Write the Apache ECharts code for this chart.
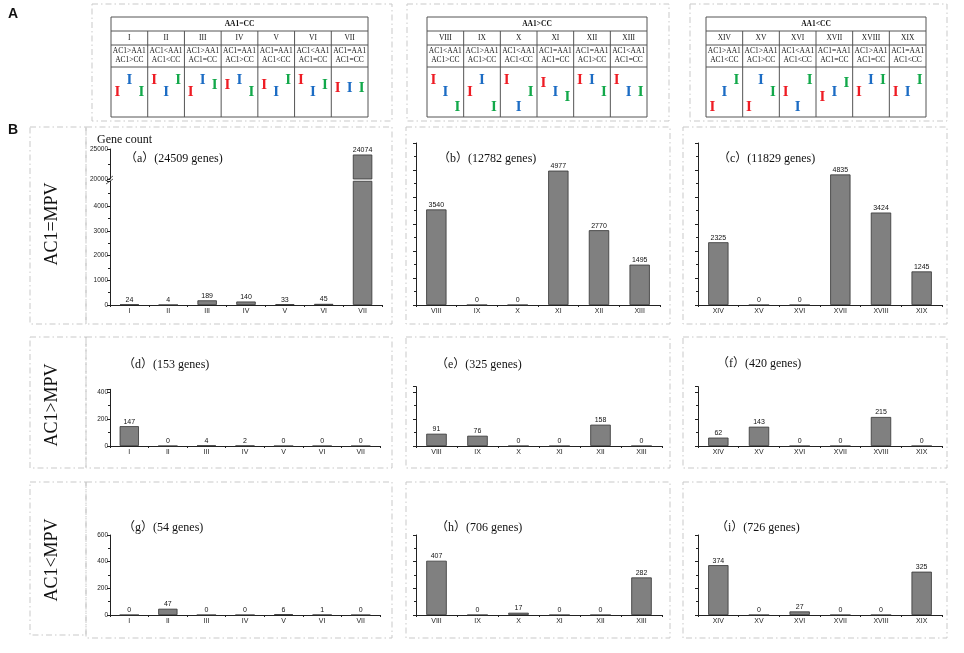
<!DOCTYPE html>
<html><head><meta charset="utf-8">
<script src="https://cdn.jsdelivr.net/npm/echarts@6.0.0/dist/echarts.min.js"></script>
<style>html,body{margin:0;padding:0;background:#fff}#c{width:964px;height:653px}</style>
</head><body><div id="c"></div>
<script>
// ---------- data ----------
const catsA = ['I','II','III','IV','V','VI','VII'];
const catsB = ['VIII','IX','X','XI','XII','XIII'];
const catsC = ['XIV','XV','XVI','XVII','XVIII','XIX'];
const valsA = [24,4,189,140,33,45,24074];
const valsB = [3540,0,0,4977,2770,1495];
const valsC = [2325,0,0,4835,3424,1245];
const valsD = [147,0,4,2,0,0,0];
const valsE = [91,76,0,0,158,0];
const valsF = [62,143,0,0,215,0];
const valsG = [0,47,0,0,6,1,0];
const valsH = [407,0,17,0,0,282];
const valsI = [374,0,27,0,0,325];
const panelTitles = ['（a）(24509 genes)','（b）(12782 genes)','（c）(11829 genes)',
                     '（d）(153 genes)','（e）(325 genes)','（f）(420 genes)',
                     '（g）(54 genes)','（h）(706 genes)','（i）(726 genes)'];
const rowLabels = ['AC1=MPV','AC1>MPV','AC1<MPV'];
const groupHeads = ['AA1=CC','AA1>CC','AA1<CC'];
const relA = [['AC1>AA1','AC1>CC'],['AC1<AA1','AC1<CC'],['AC1>AA1','AC1=CC'],['AC1=AA1','AC1>CC'],['AC1=AA1','AC1<CC'],['AC1<AA1','AC1=CC'],['AC1=AA1','AC1=CC']];
const relB = [['AC1<AA1','AC1>CC'],['AC1>AA1','AC1>CC'],['AC1<AA1','AC1<CC'],['AC1=AA1','AC1=CC'],['AC1=AA1','AC1>CC'],['AC1<AA1','AC1=CC']];
const relC = [['AC1>AA1','AC1<CC'],['AC1>AA1','AC1>CC'],['AC1<AA1','AC1<CC'],['AC1=AA1','AC1=CC'],['AC1>AA1','AC1=CC'],['AC1=AA1','AC1<CC']];
// relative levels of AA1 (red), AC1 (blue), CC (green) in each column
const lvA = [[6,10,6],[10,6,10],[6,10,8.3],[8.3,10,6],[8.3,6,10],[10,6,8.3],[7.3,7.3,7.3]];
const lvB = [[10,6,1],[6,10,1],[10,1,6],[9,6,4.3],[10,10,6],[10,6,6]];
const lvC = [[1,6,10],[1,10,6],[6,1,10],[4.3,6,9],[6,10,10],[6,6,10]];

// ---------- layout ----------
const SERIF = '"Liberation Serif","Times New Roman","Noto Sans CJK SC",serif';
const SANS = '"Liberation Sans",Arial,sans-serif';
const chart = echarts.init(document.getElementById('c'), null, {renderer:'canvas'});
const graphic = [];
function dashBox(x,y,w,h){
  graphic.push({type:'rect',silent:true,z:-10,shape:{x,y,width:w,height:h},
    style:{fill:'none',stroke:'#c9c9c9',lineWidth:1,lineDash:[6,3,1.5,3]}});
}
function ctext(x,y,text,font,align){
  graphic.push({type:'text',silent:true,x,y,
    style:{text,font,fill:'#111',align:align||'left',verticalAlign:'middle'}});
}
function line(x1,y1,x2,y2,color,w){
  graphic.push({type:'line',silent:true,shape:{x1,y1,x2,y2},style:{stroke:color||'#555',lineWidth:w||1}});
}
// dashed boxes
dashBox(92,4,300,117); dashBox(407,4,262,117); dashBox(690,4,257,117);
const rowsY = [[127,197],[337,131],[482,156]];
rowsY.forEach(([y,h],i)=>{
  dashBox(30,y,56,i===2?153:h);
  dashBox(86,y,306,h); dashBox(406,y,264,h); dashBox(683,y,264,h);
});
ctext(8,14,'A','bold 14px '+SANS);
ctext(8,130,'B','bold 14px '+SANS);
// tables
const tables = [
  {x:111,w:257,head:groupHeads[0],cats:catsA,rel:relA,lv:lvA},
  {x:427,w:220,head:groupHeads[1],cats:catsB,rel:relB,lv:lvB},
  {x:706,w:220,head:groupHeads[2],cats:catsC,rel:relC,lv:lvC}
];
const glyphColors = ['#ee1c24','#1c6cc4','#12a84a'];
tables.forEach(t=>{
  const n=t.cats.length, cw=t.w/n;
  graphic.push({type:'rect',silent:true,shape:{x:t.x,y:17,width:t.w,height:100},style:{fill:'none',stroke:'#555',lineWidth:1}});
  [31,45,67].forEach(y=>line(t.x,y,t.x+t.w,y));
  for(let i=1;i<n;i++) line(t.x+i*cw,31,t.x+i*cw,117);
  ctext(t.x+t.w/2,24,t.head,'bold 7.5px '+SERIF,'center');
  t.cats.forEach((c,i)=>{
    const cx=t.x+cw*i+cw/2;
    ctext(cx,38,c,'7.5px '+SERIF,'center');
    ctext(cx,51.5,t.rel[i][0],'7.5px '+SERIF,'center');
    ctext(cx,60.5,t.rel[i][1],'7.5px '+SERIF,'center');
    t.lv[i].forEach((L,k)=>{
      graphic.push({type:'text',silent:true,x:cx+(k-1)*12,y:110-L*3,
        style:{text:'I',font:'bold 15px '+SERIF,fill:glyphColors[k],align:'center',verticalAlign:'middle'}});
    });
  });
});
// row labels
[[52,224],[52,405],[52,560]].forEach(([x,y],i)=>{
  graphic.push({type:'text',silent:true,x,y,rotation:Math.PI/2,
    style:{text:rowLabels[i],font:'18px '+SERIF,fill:'#111',align:'center',verticalAlign:'middle'}});
});
ctext(97,140,'Gene count','12px '+SERIF);
const titlePos=[[125,159],[438,159],[718,159],[123,365],[436,365],[717,364],[123,528],[436,528],[716,528]];
titlePos.forEach(([x,y],i)=>ctext(x,y,panelTitles[i],'12px '+SERIF));
// axis break marks
line(106,181,113,176,'#333',0.8); line(106,184,113,179,'#333',0.8);

// ---------- charts ----------
const panels = [
  {cats:catsA,vals:valsA,g:[110,181.25,272,123.75],min:0,max:5000,iv:1000,lab:true,hideMax:true,clipMax:5000},
  {cats:catsA,vals:valsA,g:[110,149,272,30],min:20000,max:25000,iv:5000,lab:true,noX:true,clipMin:20000},
  {cats:catsB,vals:valsB,g:[416,143,244,162],min:0,max:6000,iv:1000},
  {cats:catsC,vals:valsC,g:[698,143,244,162],min:0,max:6000,iv:1000},
  {cats:catsA,vals:valsD,g:[110,389.3,270,56.7],min:0,max:420,iv:200,lab:true,hideMax:true},
  {cats:catsB,vals:valsE,g:[416,386.6,246,59.4],min:0,max:440,iv:200},
  {cats:catsC,vals:valsF,g:[698,386.6,244,59.4],min:0,max:440,iv:200},
  {cats:catsA,vals:valsG,g:[110,535,270,80],min:0,max:600,iv:200,lab:true},
  {cats:catsB,vals:valsH,g:[416,535,246,80],min:0,max:600,iv:200},
  {cats:catsC,vals:valsI,g:[698,535,244,80],min:0,max:600,iv:200}
];
const grid=[],xAxis=[],yAxis=[],series=[];
const axisColor='#222';
panels.forEach((p,i)=>{
  grid.push({left:p.g[0],top:p.g[1],width:p.g[2],height:p.g[3],containLabel:false,outerBoundsMode:'none'});
  xAxis.push({type:'category',gridIndex:i,data:p.cats,show:!p.noX,
    axisLine:{lineStyle:{color:axisColor,width:1}},
    axisTick:{show:true,length:2,lineStyle:{color:axisColor}},
    axisLabel:{fontSize:7,fontFamily:SANS,color:'#222',margin:3,interval:0},
    splitLine:{show:false}});
  yAxis.push({type:'value',gridIndex:i,min:p.min,max:p.max,interval:p.iv,
    axisLine:{show:true,lineStyle:{color:axisColor,width:1}},
    axisTick:{show:true,length:3,lineStyle:{color:axisColor}},
    minorTick:{show:true,splitNumber:2,length:2,lineStyle:{color:axisColor}},
    splitLine:{show:false},
    axisLabel:{show:!!p.lab,fontSize:6.5,fontFamily:SANS,color:'#222',margin:2,showMaxLabel:!p.hideMax,
      formatter:(v)=>String(v)}});
  series.push({type:'bar',xAxisIndex:i,yAxisIndex:i,data:p.vals,barWidth:'50%',clip:true,
    itemStyle:{color:'#808080',borderColor:'#333',borderWidth:0.8},
    label:{show:true,position:'top',distance:1,fontSize:7,fontFamily:SANS,color:'#111',
      formatter:(q)=>{
        if(p.clipMax!==undefined && q.value>p.clipMax) return '';
        if(p.clipMin!==undefined && q.value<p.clipMin) return '';
        return String(q.value);
      }},
    animation:false});
});
chart.setOption({animation:false,backgroundColor:'#fff',grid,xAxis,yAxis,series,graphic});
</script></body></html>
